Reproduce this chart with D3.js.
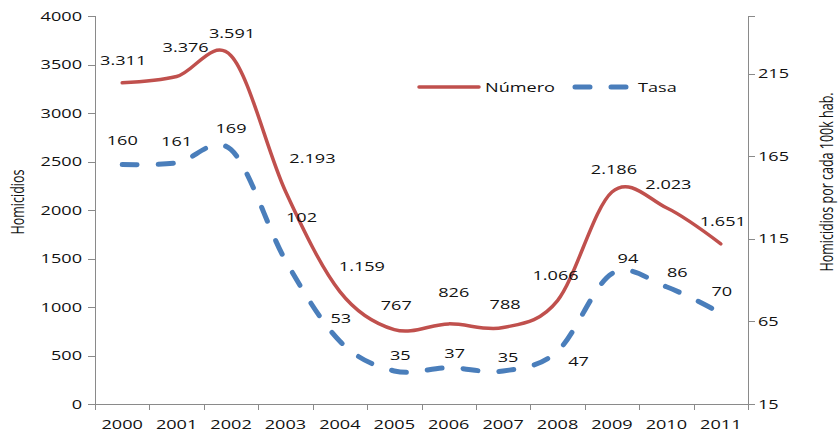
<!DOCTYPE html>
<html>
<head>
<meta charset="utf-8">
<script src="https://cdn.jsdelivr.net/npm/d3@7"></script>
<style>
  html, body { margin: 0; padding: 0; background: #fff; }
  svg { display: block; }
  text { font-family: "Open Sans", sans-serif; fill: #111; }
</style>
</head>
<body>
<svg id="chart" width="840" height="432"></svg>
<script>
// Homicidios por año (número absoluto) y tasa por cada 100k habitantes
const years = ["2000","2001","2002","2003","2004","2005","2006","2007","2008","2009","2010","2011"];
const numero = [3311, 3376, 3591, 2193, 1159, 767, 826, 788, 1066, 2186, 2023, 1651];
const tasa = [160, 161, 169, 102, 53, 35, 37, 35, 47, 94, 86, 70];
const numeroLabels = ["3.311","3.376","3.591","2.193","1.159","767","826","788","1.066","2.186","2.023","1.651"];
const tasaLabels = ["160","161","169","102","53","35","37","35","47","94","86","70"];
const leftTicks = [0, 500, 1000, 1500, 2000, 2500, 3000, 3500, 4000];
const rightTicks = [15, 65, 115, 165, 215];
const seriesNames = ["Número", "Tasa"];

// label placement relative to each point (dx, dy)
const numeroLabelShift = [[1,-22],[9,-29],[1,-22],[27,-33],[22,-25],[2,-24],[5,-31],[2,-23],[-2,-25],[2,-22],[2,-23],[2,-22]];
const tasaLabelShift = [[0,-24],[0,-21],[0,-21],[16,-43],[1,-23],[6,-15],[6,-14],[5,-13],[21,10],[16,-15],[11,-14],[1,-22]];

const RED = "#C0504D", BLUE = "#4A7EBB", AXIS = "#8a8a8a";
const SX = 1.45;      // horizontal stretch of all text
const FS = 12.5;      // horizontal text size
const FSV = 12.5;     // rotated title size
const SXV = 1.5;      // stretch across rotated titles

const svg = d3.select("#chart");
const plot = { left: 95, right: 748, top: 16, bottom: 404 };

const x = d3.scaleBand().domain(years).range([plot.left, plot.right]);
const cx = d => x(d) + x.bandwidth() / 2;
const yL = d3.scaleLinear().domain([0, 4000]).range([plot.bottom, plot.top]);
const yR = d3.scaleLinear().domain([15, 250]).range([plot.bottom, plot.top]);

function label(g, str, px, py, opts = {}) {
  const sx = opts.rot ? SXV : SX;
  const t = g.append("text")
    .attr("transform", `translate(${px},${py}) scale(${sx},1)` + (opts.rot ? ` rotate(${opts.rot})` : ""))
    .attr("text-anchor", opts.anchor || "middle")
    .attr("dy", "0.36em")
    .style("font-size", (opts.size || FS) + "px")
    .text(str);
  return t;
}

// axes lines and ticks
const axes = svg.append("g").attr("stroke", AXIS).attr("stroke-width", 1).attr("fill", "none");
axes.append("line").attr("x1", plot.left + 0.5).attr("x2", plot.left + 0.5).attr("y1", plot.top).attr("y2", plot.bottom);
axes.append("line").attr("x1", plot.right + 0.5).attr("x2", plot.right + 0.5).attr("y1", plot.top).attr("y2", plot.bottom);
axes.append("line").attr("x1", plot.left - 7).attr("x2", plot.right + 7).attr("y1", plot.bottom + 0.5).attr("y2", plot.bottom + 0.5);

leftTicks.forEach(v => {
  const yy = Math.round(yL(v)) + 0.5;
  axes.append("line").attr("x1", plot.left - 7).attr("x2", plot.left).attr("y1", yy).attr("y2", yy);
});
rightTicks.concat([250]).forEach(v => {
  const yy = Math.round(yR(v)) + 0.5;
  axes.append("line").attr("x1", plot.right).attr("x2", plot.right + 7).attr("y1", yy).attr("y2", yy);
});
years.concat(["end"]).forEach((yr, i) => {
  const xx = Math.round(plot.left + i * x.bandwidth()) + 0.5;
  axes.append("line").attr("x1", xx).attr("x2", xx).attr("y1", plot.bottom).attr("y2", plot.bottom + 6);
});

// tick labels
const tl = svg.append("g");
leftTicks.forEach(v => label(tl, String(v), 82, yL(v), { anchor: "end" }));
rightTicks.forEach(v => label(tl, String(v), 758, yR(v), { anchor: "start" }));
years.forEach(yr => label(tl, yr, cx(yr), 424));

// axis titles
label(tl, "Homicidios", 17, 202, { rot: -90, size: FSV });
label(tl, "Homicidios por cada 100k hab.", 826, 182, { rot: -90, size: FSV });

// series lines (smoothed)
const lineL = d3.line().x((d, i) => cx(years[i])).y(d => yL(d)).curve(d3.curveCardinal.tension(0));
const lineR = d3.line().x((d, i) => cx(years[i])).y(d => yR(d)).curve(d3.curveCardinal.tension(0));

svg.append("path").attr("d", lineR(tasa))
  .attr("fill", "none").attr("stroke", BLUE).attr("stroke-width", 5)
  .attr("stroke-dasharray", "15 21").attr("stroke-linecap", "round");
svg.append("path").attr("d", lineL(numero))
  .attr("fill", "none").attr("stroke", RED).attr("stroke-width", 3.5)
  .attr("stroke-linecap", "round");

// data labels
const dl = svg.append("g");
numero.forEach((v, i) => {
  const [dx, dy] = numeroLabelShift[i];
  label(dl, numeroLabels[i], cx(years[i]) + dx, yL(v) + dy);
});
tasa.forEach((v, i) => {
  const [dx, dy] = tasaLabelShift[i];
  label(dl, tasaLabels[i], cx(years[i]) + dx, yR(v) + dy);
});

// legend
const lg = svg.append("g");
lg.append("line").attr("x1", 419).attr("x2", 479).attr("y1", 87).attr("y2", 87)
  .attr("stroke", RED).attr("stroke-width", 3.5).attr("stroke-linecap", "round");
label(lg, seriesNames[0], 485, 87, { anchor: "start" });
lg.append("line").attr("x1", 575).attr("x2", 630).attr("y1", 87).attr("y2", 87)
  .attr("stroke", BLUE).attr("stroke-width", 5).attr("stroke-dasharray", "15 21").attr("stroke-linecap", "round");
label(lg, seriesNames[1], 638, 87, { anchor: "start" });
</script>
</body>
</html>
